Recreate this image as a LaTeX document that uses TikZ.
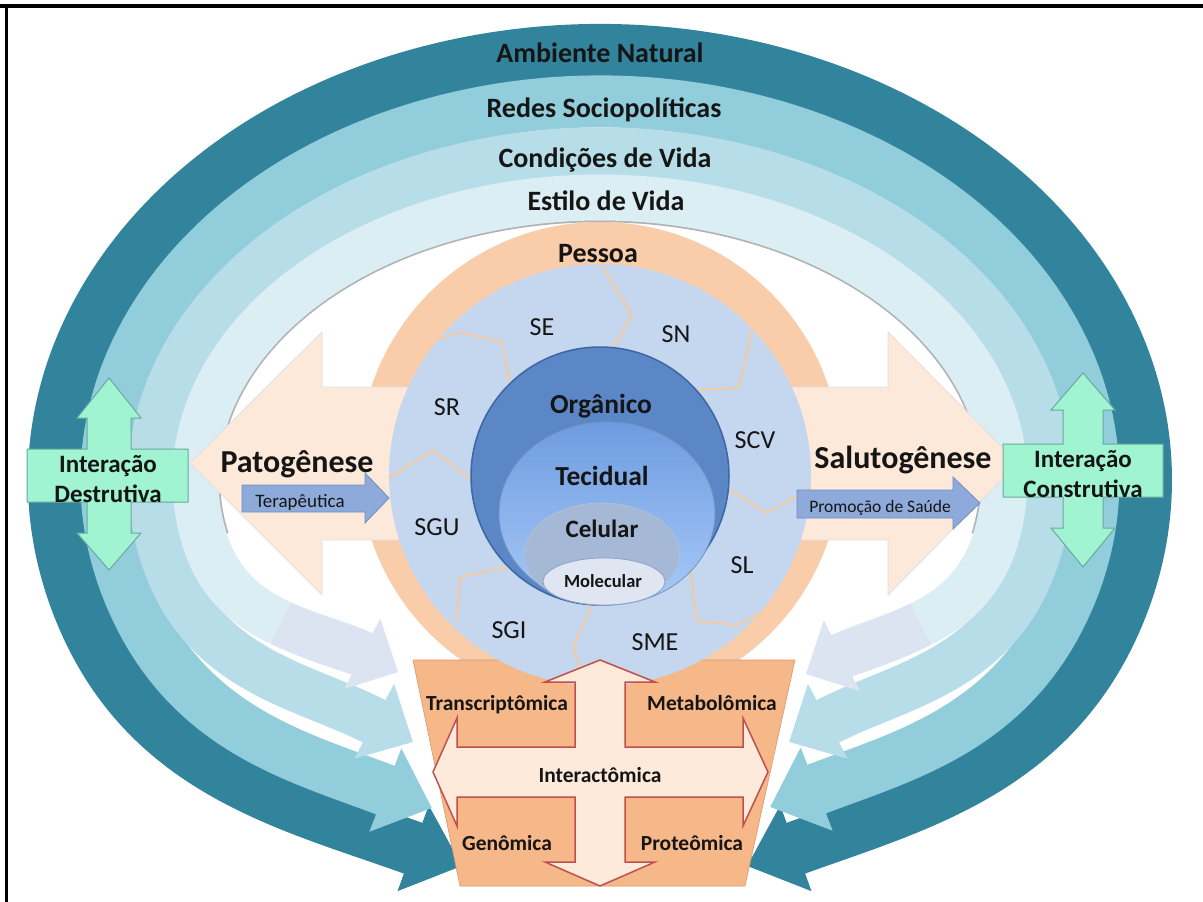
\documentclass[tikz,border=0pt]{standalone}
\usepackage{fontspec}
\setmainfont{Carlito}
\usetikzlibrary{arrows.meta}
\definecolor{cDark}{HTML}{31849B}
\definecolor{cMed}{HTML}{92CDDC}
\definecolor{cLight}{HTML}{B7DEE8}
\definecolor{cLightest}{HTML}{DAEEF3}
\definecolor{cLav}{HTML}{DCE4F1}
\definecolor{cPessoa}{HTML}{FACDAA}
\definecolor{cPeach}{HTML}{FDE9D9}
\definecolor{cBox}{HTML}{F6B789}
\definecolor{cCross}{HTML}{FDEADB}
\definecolor{cCrossLine}{HTML}{C0504D}
\definecolor{cSys}{HTML}{C5D6EF}
\definecolor{cOrg}{HTML}{5B87C6}
\definecolor{cOrgLine}{HTML}{3D66A3}
\definecolor{cTecTop}{HTML}{A8CAF8}
\definecolor{cTecBot}{HTML}{6E9BE0}
\definecolor{cCel}{HTML}{A5B9D7}
\definecolor{cMol}{HTML}{DFE6F1}
\definecolor{cArrow}{HTML}{8EAADB}
\definecolor{cArrowLine}{HTML}{6F8FC4}
\definecolor{cGreen}{HTML}{A0F4D2}
\definecolor{cGreenLine}{HTML}{6AA99B}
\definecolor{cJig}{HTML}{F3CBA3}
\definecolor{txt}{HTML}{151515}
\newcommand\fsz[1]{\fontsize{#1pt}{#1pt}\selectfont}
\begin{document}
\begin{tikzpicture}[x=1pt,y=1pt,yscale=-1,
  lbl/.style={inner sep=0pt,anchor=base,text=txt},
  ringlbl/.style={lbl,font=\bfseries\fsz{28}},
  biglbl/.style={lbl,font=\bfseries\fsz{32}},
  greenlbl/.style={lbl,font=\bfseries\fsz{25}},
  syslbl/.style={lbl,font=\fsz{26}},
  omicslbl/.style={lbl,font=\bfseries\fsz{21.5}},
  jig/.style={cJig,line width=2pt,line join=round},
  greenshape/.style={fill=cGreen,draw=cGreenLine,line width=1pt},
  bluearrow/.style={fill=cArrow,draw=cArrowLine,line width=0.8pt}]
\path[use as bounding box] (0,0) rectangle (1203,902);
\fill[white] (0,0) rectangle (1203,902);

% ---------- ring bands ----------
\coordinate (dL) at ({600+545*cos(163.7)},{480+429*sin(163.7)});
\coordinate (dTL) at (462,866);
\coordinate (dTR) at (747,866);
\draw[cDark,line width=54pt,{Triangle[width=88pt,length=52pt]}-{Triangle[width=88pt,length=52pt]}]
  (dTL) to[out=200,in=69.6] (dL)
  arc[start angle=163.7,end angle=376.3,x radius=545,y radius=429]
  to[out=110.4,in=-20] (dTR);

\coordinate (mL) at ({600+493.5*cos(161.5)},{480+378.5*sin(161.5)});
\coordinate (mTL) at (432,808);
\coordinate (mTR) at (770,807);
\draw[cMed,line width=52pt,{Triangle[width=86pt,length=50pt]}-{Triangle[width=86pt,length=50pt]}]
  (mTL) to[out=201,in=66.4] (mL)
  arc[start angle=161.5,end angle=378.5,x radius=493.5,y radius=378.5]
  to[out=113.6,in=-21] (mTR);

\coordinate (gL) at ({600+448*cos(165.9)},{480+328.5*sin(165.9)});
\coordinate (gTL) at (413,742);
\coordinate (gTR) at (789,742);
\draw[cLight,line width=48pt,{Triangle[width=82pt,length=44pt]}-{Triangle[width=82pt,length=44pt]}]
  (gTL) to[out=208,in=71.1] (gL)
  arc[start angle=165.9,end angle=374.1,x radius=448,y radius=328.5]
  to[out=108.9,in=-28] (gTR);

\coordinate (lL) at ({600+404.5*cos(167.7)},{480+282.5*sin(167.7)});
\coordinate (lR) at ({600+404.5*cos(12.3)},{480+282.5*sin(12.3)});
\coordinate (lTL) at (398,672);
\coordinate (lTR) at (806,674);
% inner shadow line of the lightest band
\draw[black!30,line width=46pt]
  ({600+402.8*cos(167.7)},{480+280.8*sin(167.7)})
  arc[start angle=167.7,end angle=372.3,x radius=402.8,y radius=280.8];
\draw[cLightest,line width=46pt,{Triangle[width=76pt,length=40pt]}-{Triangle[width=76pt,length=40pt]}]
  (lTL) to[out=207,in=72.7] (lL)
  arc[start angle=167.7,end angle=372.3,x radius=404.5,y radius=282.5]
  to[out=107.3,in=-27] (lTR);
% lavender arrow ends (second halves of the end curves)
\coordinate (lSL) at (281,623.3);
\coordinate (lSR) at (920.8,624.1);
\draw[cLav,line width=46pt,-{Triangle[width=76pt,length=40pt]}]
  (lSL) .. controls (315.7,640.1) and (357.2,651.2) .. (lTL);
\draw[cLav,line width=46pt,-{Triangle[width=76pt,length=40pt]}]
  (lSR) .. controls (887,641.6) and (846.4,653.4) .. (lTR);

% ---------- Pessoa ----------
\fill[cPessoa] (600,463) circle[radius=241];

% ---------- big double arrow ----------
\filldraw[fill=cPeach,draw=black!12,line width=0.8pt]
  (190,463) -- (322,332) -- (322,387) -- (888,387) -- (888,332) -- (1018,463)
  -- (888,595) -- (888,540) -- (322,540) -- (322,595) -- cycle;

% ---------- omics box ----------
\filldraw[fill=cBox,draw=cBox!85!black,line width=0.6pt]
  (413,660) -- (795,660) -- (745,886) -- (460,886) -- cycle;

% ---------- systems circle ----------
\fill[cSys] (600,475) circle[radius=211];
\draw[jig] (436,340) -- (460,332) -- (502,342) -- (510,384);
\draw[jig] (601,265) -- (632,315) -- (613,348);
\draw[jig] (752,329) -- (739,388) -- (696,390);
\draw[jig] (727,488) -- (767,513) -- (810,488);
\draw[jig] (389,478) -- (433,450) -- (472,480);
\draw[jig] (509,567) -- (460,577) -- (456,622);
\draw[jig] (592,606) -- (573,647) -- (585,684);
\draw[jig] (690,568) -- (697,621) -- (737,625) -- (764,611);

% ---------- levels ----------
\filldraw[fill=cOrg,draw=cOrgLine,line width=1.5pt] (600,476) circle[radius=129];
\shade[top color=cTecBot,bottom color=cTecTop,draw=cOrgLine!70,line width=0.8pt]
  (607,513.5) ellipse[x radius=108,y radius=91.5];
\filldraw[fill=cCel,draw=cOrgLine!40,line width=0.6pt] (602,554) ellipse[x radius=77.5,y radius=51];
\filldraw[fill=cMol,draw=cOrgLine!60,line width=0.8pt] (604,581.5) ellipse[x radius=61,y radius=23.5];

% ---------- cross arrow ----------
\filldraw[fill=cCross,draw=cCrossLine,line width=1.5pt,line join=miter]
  (600,660) -- (655,682) -- (625,682) -- (625,747) -- (743,747) -- (743,718)
  -- (768,772) -- (743,826) -- (743,797) -- (625,797) -- (625,862) -- (655,862)
  -- (600,886) -- (545,862) -- (575,862) -- (575,797) -- (457,797) -- (457,826)
  -- (433,772) -- (457,718) -- (457,747) -- (575,747) -- (575,682) -- (545,682) -- cycle;

% ---------- small blue arrows ----------
\filldraw[bluearrow] (242,485) -- (365,485) -- (365,473) -- (389,498) -- (365,523) -- (365,512) -- (242,512) -- cycle;
\filldraw[bluearrow] (797,490) -- (953,490) -- (953,477) -- (980,503) -- (953,529) -- (953,518) -- (797,518) -- cycle;

% ---------- green interaction arrows ----------
\filldraw[greenshape] (109,378) -- (141,418) -- (131,418) -- (131,449) -- (188,449) -- (188,502)
  -- (131,502) -- (131,533) -- (141,533) -- (109,570) -- (77,533) -- (87,533) -- (87,502)
  -- (27,502) -- (27,449) -- (87,449) -- (87,418) -- (77,418) -- cycle;
\filldraw[greenshape] (1083,373) -- (1115,410) -- (1103,410) -- (1103,444) -- (1163,444) -- (1163,497)
  -- (1103,497) -- (1103,528) -- (1115,528) -- (1083,567) -- (1051,528) -- (1063,528) -- (1063,497)
  -- (1003,497) -- (1003,444) -- (1063,444) -- (1063,410) -- (1051,410) -- cycle;

% ---------- texts ----------
\node[ringlbl] (an) at (600,62) {Ambiente Natural};
\node[ringlbl] (rs) at (604,117) {Redes Sociopolíticas};
\node[ringlbl] (cv) at (605,167) {Condições de Vida};
\node[ringlbl] (ev) at (606,210) {Estilo de Vida};
\node[ringlbl] (pe) at (598,262) {Pessoa};

\node[biglbl] (pat) at (297,472) {Patogênese};
\node[biglbl] (sal) at (903,468) {Salutogênese};
\node[lbl,font=\fsz{19}] (ter) at (300,507) {Terapêutica};
\node[lbl,font=\fsz{17.5}] (pro) at (880,512) {Promoção de Saúde};

\node[greenlbl] (id1) at (108,472) {Interação};
\node[greenlbl] (id2) at (108,502) {Destrutiva};
\node[greenlbl] (ic1) at (1083,467) {Interação};
\node[greenlbl] (ic2) at (1083,497) {Construtiva};

\node[syslbl] (se) at (542,335) {SE};
\node[syslbl] (sn) at (676,342) {SN};
\node[syslbl] (sr) at (447,415) {SR};
\node[syslbl] (scv) at (755,448) {SCV};
\node[syslbl] (sgu) at (437,535) {SGU};
\node[syslbl] (sl) at (742,573) {SL};
\node[syslbl] (sgi) at (509,638) {SGI};
\node[syslbl] (sme) at (655,650) {SME};

\node[lbl,font=\bfseries\fsz{27.5}] (org) at (601,413) {Orgânico};
\node[lbl,font=\bfseries\fsz{27.5}] (tec) at (602,485) {Tecidual};
\node[lbl,font=\bfseries\fsz{25}] (cel) at (602,537) {Celular};
\node[lbl,font=\bfseries\fsz{18.5}] (mol) at (603,587) {Molecular};

\node[omicslbl] (tr) at (497,710) {Transcriptômica};
\node[omicslbl] (me) at (712,710) {Metabolômica};
\node[omicslbl] (ia) at (600,782) {Interactômica};
\node[omicslbl] (ge) at (507,850) {Genômica};
\node[omicslbl] (pr) at (692,850) {Proteômica};

% ---------- frame ----------
\draw[black,line width=3.5pt] (0,6) -- (1203,6);
\draw[black,line width=3pt] (6,5) -- (6,902);
\end{tikzpicture}
\end{document}
